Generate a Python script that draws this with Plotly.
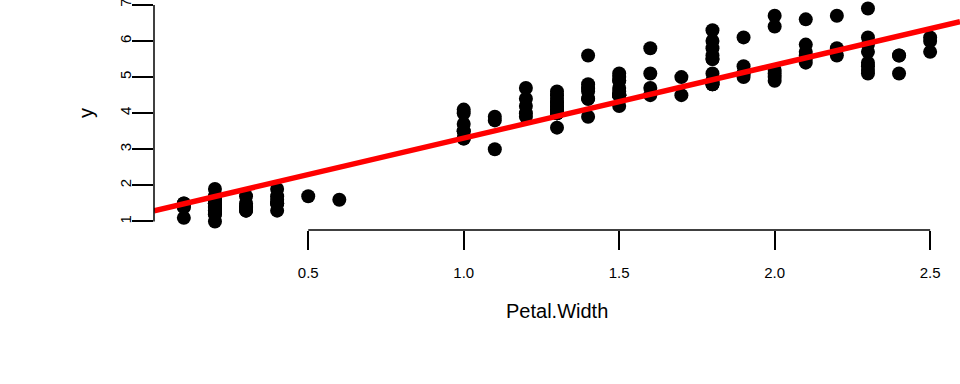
import numpy as np
import plotly.graph_objects as go

petal_width = [
    0.2,0.2,0.2,0.2,0.2,0.4,0.3,0.2,0.2,0.1,0.2,0.2,0.1,0.1,0.2,0.4,0.4,0.3,0.3,0.3,
    0.2,0.4,0.2,0.5,0.2,0.2,0.4,0.2,0.2,0.2,0.2,0.4,0.1,0.2,0.2,0.2,0.2,0.1,0.2,0.2,
    0.3,0.3,0.2,0.6,0.4,0.3,0.2,0.2,0.2,0.2,
    1.4,1.5,1.5,1.3,1.5,1.3,1.6,1.0,1.3,1.4,1.0,1.5,1.0,1.4,1.3,1.4,1.5,1.0,1.5,1.1,
    1.8,1.3,1.5,1.2,1.3,1.4,1.4,1.7,1.5,1.0,1.1,1.0,1.2,1.6,1.5,1.6,1.5,1.3,1.3,1.3,
    1.2,1.4,1.2,1.0,1.3,1.2,1.3,1.3,1.1,1.3,
    2.5,1.9,2.1,1.8,2.2,2.1,1.7,1.8,1.8,2.5,2.0,1.9,2.1,2.0,2.4,2.3,1.8,2.2,2.3,1.5,
    2.3,2.0,2.0,1.8,2.1,1.8,1.8,1.8,2.1,1.6,1.9,2.0,2.2,1.5,1.4,2.3,2.4,1.8,1.8,2.1,
    2.4,2.3,1.9,2.3,2.5,2.3,1.9,2.0,2.3,1.8,
]
y_values = [
    1.4,1.4,1.3,1.5,1.4,1.7,1.4,1.5,1.4,1.5,1.5,1.6,1.4,1.1,1.2,1.5,1.3,1.4,1.7,1.5,
    1.7,1.5,1.0,1.7,1.9,1.6,1.6,1.5,1.4,1.6,1.6,1.5,1.5,1.4,1.5,1.2,1.3,1.4,1.3,1.5,
    1.3,1.3,1.3,1.6,1.9,1.4,1.6,1.4,1.5,1.4,
    4.7,4.5,4.9,4.0,4.6,4.5,4.7,3.3,4.6,3.9,3.5,4.2,4.0,4.7,3.6,4.4,4.5,4.1,4.5,3.9,
    4.8,4.0,4.9,4.7,4.3,4.4,4.8,5.0,4.5,3.5,3.8,3.7,3.9,5.1,4.5,4.5,4.7,4.4,4.1,4.0,
    4.4,4.6,4.0,3.3,4.2,4.2,4.2,4.3,3.0,4.1,
    6.0,5.1,5.9,5.6,5.8,6.6,4.5,6.3,5.8,6.1,5.1,5.3,5.5,5.0,5.1,5.3,5.5,6.7,6.9,5.0,
    5.7,4.9,6.7,4.9,5.7,6.0,4.8,4.9,5.6,5.8,6.1,6.4,5.6,5.1,5.6,6.1,5.6,5.5,4.8,5.4,
    5.6,5.1,5.1,5.9,5.7,5.2,5.0,5.2,5.4,5.1,
]
line_intercept = 1.29
line_slope = 2.02

x_ticks = [0.5, 1.0, 1.5, 2.0, 2.5]
x_tick_labels = ["0.5", "1.0", "1.5", "2.0", "2.5"]
y_ticks = [1, 2, 3, 4, 5, 6, 7]
y_tick_labels = ["1", "2", "3", "4", "5", "6", "7"]

# R-style 4% axis extension
xmin, xmax = min(petal_width), max(petal_width)
ymin, ymax = min(y_values), max(y_values)
dx = (xmax - xmin) * 0.04
dy = (ymax - ymin) * 0.04
xr = [xmin - dx, xmax + dx]
yr = [ymin - dy, ymax + dy]

line_x = np.array(xr)
line_y = line_intercept + line_slope * line_x

fig = go.Figure()
fig.add_trace(go.Scatter(
    x=petal_width, y=y_values, mode="markers",
    marker=dict(color="black", size=14, line=dict(width=0)),
    showlegend=False, hoverinfo="x+y",
))
fig.add_trace(go.Scatter(
    x=line_x, y=line_y, mode="lines",
    line=dict(color="#ff0000", width=5.5),
    showlegend=False,
))

font = "Liberation Sans, Arial, Helvetica, sans-serif"
fig.update_layout(
    template="none",
    width=960, height=384,
    margin=dict(l=154, r=0, t=0, b=154, pad=0),
    paper_bgcolor="white", plot_bgcolor="white",
    font=dict(family=font, color="black", size=15),
    xaxis=dict(
        range=xr, showgrid=False, zeroline=False, showline=False, automargin=False,
        tickmode="array", tickvals=x_ticks, ticktext=x_tick_labels,
        ticks="outside", ticklen=19, tickwidth=1.5, tickcolor="black",
        tickfont=dict(size=15, family=font, color="black"),
        ticklabelstandoff=10,
    ),
    yaxis=dict(
        range=yr, showgrid=False, zeroline=False, showline=False, automargin=False,
        tickmode="array", tickvals=y_ticks, ticktext=y_tick_labels,
        ticks="outside", ticklen=21, tickwidth=1.5, tickcolor="black",
        tickangle=-90,
        tickfont=dict(size=15, family=font, color="black"),
        ticklabeloverflow="allow",
        ticklabelstandoff=-5,
    ),
    shapes=[
        dict(type="line", xref="x", yref="paper", x0=x_ticks[0], x1=x_ticks[-1],
             y0=0, y1=0, line=dict(color="black", width=1.5)),
        dict(type="line", xref="paper", yref="y", x0=0, x1=0,
             y0=y_ticks[0], y1=y_ticks[-1], line=dict(color="black", width=1.5)),
    ],
    annotations=[
        dict(text="Petal.Width", xref="paper", yref="paper", x=0.5, y=-0.354,
             xanchor="center", yanchor="middle", showarrow=False,
             font=dict(size=20, family=font, color="black")),
        dict(text="y", xref="paper", yref="paper", x=-0.0852, y=0.51,
             xanchor="center", yanchor="middle", showarrow=False, textangle=-90,
             font=dict(size=20, family=font, color="black")),
    ],
)

fig.write_html(
    "out.html",
    config={"displayModeBar": False},
    post_script="document.body.style.margin='0';document.body.style.padding='0';",
)
